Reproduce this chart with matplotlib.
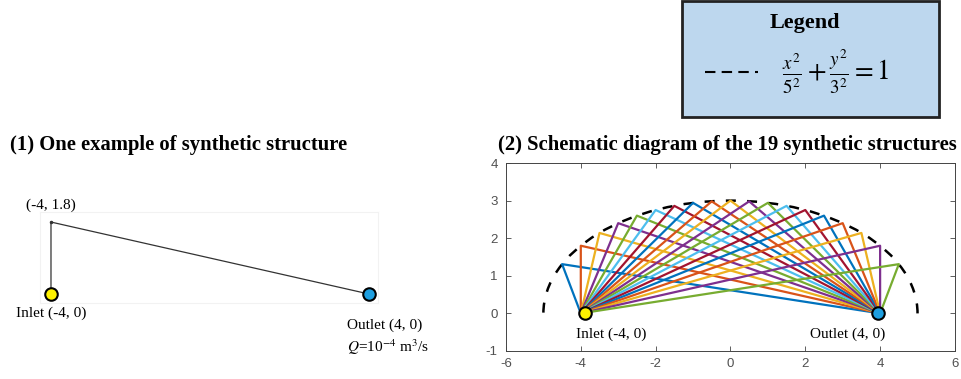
import matplotlib
matplotlib.use('Agg')
import matplotlib.pyplot as plt
from matplotlib.patches import Arc, Rectangle
from matplotlib.lines import Line2D

# Data
inlet = (-4, 0)
outlet = (4, 0)
example_vertex = (-4, 1.8)

# vertices of the 19 structures (on the ellipse x^2/5^2 + y^2/3^2 = 1)
vertex_x = [-4.5, -4.0, -3.5, -3.0, -2.5, -2.0, -1.5, -1.0, -0.5, 0.0,
            0.5, 1.0, 1.5, 2.0, 2.5, 3.0, 3.5, 4.0, 4.5]
vertex_y = [1.31, 1.80, 2.14, 2.40, 2.60, 2.75, 2.86, 2.94, 2.98, 3.00,
            2.98, 2.94, 2.86, 2.75, 2.60, 2.40, 2.14, 1.80, 1.31]

x_ticks = [-6, -4, -2, 0, 2, 4, 6]
y_ticks = [-1, 0, 1, 2, 3, 4]

matlab_colors = ['#0072BD', '#D95319', '#EDB120', '#7E2F8E',
                 '#77AC30', '#4DBEEE', '#A2142F']

serif = ['Liberation Serif', 'DejaVu Serif']
plt.rcParams['font.family'] = ['Liberation Sans', 'DejaVu Sans']
plt.rcParams['mathtext.fontset'] = 'stix'
plt.rcParams['axes.unicode_minus'] = False

fig = plt.figure(figsize=(9.61, 3.79), dpi=100)

# Left panel: one example
ax1 = fig.add_axes([0.0416, 0.2005, 0.3517, 0.240])
ax1.plot([inlet[0], example_vertex[0], outlet[0]],
         [inlet[1], example_vertex[1], outlet[1]], color='#333333', lw=0.9)
ax1.plot(*example_vertex, 'o', color='#333333', ms=1.5)
ax1.plot(*inlet, 'o', ms=9, mfc='#FFF200', mec='black', mew=1.5, clip_on=False)
ax1.plot(*outlet, 'o', ms=9, mfc='#1E9FE0', mec='black', mew=1.5, clip_on=False)
ax1.set_xlim(-4.277, 4.226)
ax1.set_ylim(-0.225, 2.05)
ax1.set_xticks([])
ax1.set_yticks([])
for s in ax1.spines.values():
    s.set_color('#f2f2f2')
    s.set_linewidth(0.8)
ax1.text(-4, 2.22, '(-4, 1.8)', ha='center', va='center', family=serif, fontsize=11)
ax1.text(-4, -0.48, 'Inlet (-4, 0)', ha='center', va='center', family=serif, fontsize=11)
ax1.text(3.45, -0.78, 'Outlet (4, 0)', ha='left', va='center', family=serif, fontsize=11)
ax1.text(3.45, -1.33, r'$Q$=10$^{-4}$ m$^3$/s', ha='left', va='center', family=serif, fontsize=11)

fig.text(0.0105, 1 - 145 / 379, '(1) One example of synthetic structure',
         ha='left', va='center', family=serif, fontsize=14.9, fontweight='bold')

# Right panel: the 19 structures
ax2 = fig.add_axes([0.5265, 0.0739, 0.4672, 0.496])
for i, (vx, vy) in enumerate(zip(vertex_x, vertex_y)):
    ax2.plot([inlet[0], vx, outlet[0]], [inlet[1], vy, outlet[1]],
             color=matlab_colors[i % 7], lw=1.6)
ax2.add_patch(Arc((0, 0), 10, 6, theta1=0, theta2=180, color='black',
                  lw=1.8, linestyle=(0, (4, 4.5))))
ax2.plot(-3.9, 0, 'o', ms=9, mfc='#FFF200', mec='black', mew=1.5, zorder=5)
ax2.plot(3.95, 0, 'o', ms=9, mfc='#1E9FE0', mec='black', mew=1.5, zorder=5)
ax2.text(-4.13, -0.55, 'Inlet (-4, 0)', ha='left', va='center', family=serif, fontsize=11)
ax2.text(4.13, -0.55, 'Outlet (4, 0)', ha='right', va='center', family=serif, fontsize=11)
ax2.set_xlim(-6, 6)
ax2.set_ylim(-1, 4)
ax2.set_xticks(x_ticks)
ax2.set_yticks(y_ticks)
ax2.tick_params(direction='in', top=True, right=True, length=3.5, width=0.6,
                labelsize=9.5, labelcolor='#505050', color='#444444')
ax2.tick_params(axis='x', pad=5)
ax2.tick_params(axis='y', pad=6)
for s in ax2.spines.values():
    s.set_color('#444444')
    s.set_linewidth(0.7)

fig.text(727 / 961, 1 - 145 / 379, '(2) Schematic diagram of the 19 synthetic structures',
         ha='center', va='center', family=serif, fontsize=14.9, fontweight='bold')

# Legend box
fig.patches.append(Rectangle((682 / 961, 1 - 117 / 379), 257 / 961, 116 / 379,
                             transform=fig.transFigure, facecolor='#BDD7EE',
                             edgecolor='#222222', lw=2))
fig.text(805 / 961, 1 - 23 / 379, 'Legend', ha='center', va='center',
         family=serif, fontsize=16, fontweight='bold')
fig.lines.append(Line2D([705 / 961, 758 / 961], [1 - 72 / 379, 1 - 72 / 379],
                        transform=fig.transFigure, color='black', lw=1.5,
                        linestyle=(0, (5, 3))))
fig.text(782 / 961, 1 - 72 / 379, r'$\frac{x^2}{5^2}+\frac{y^2}{3^2}=1$',
         ha='left', va='center', fontsize=19.5)

fig.savefig('out.png', dpi=100)
